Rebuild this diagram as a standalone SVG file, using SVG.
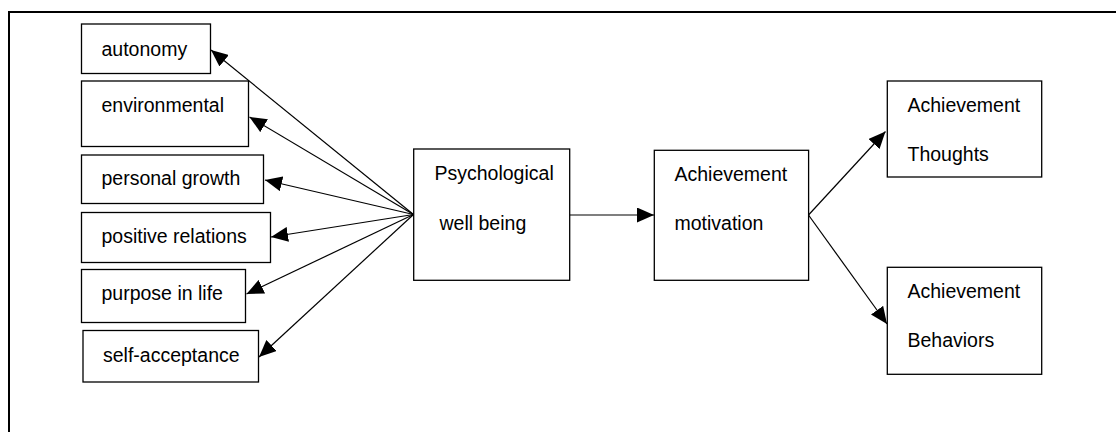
<svg xmlns="http://www.w3.org/2000/svg" width="1116" height="432" viewBox="0 0 1116 432">
<style>
.box{fill:#fff;stroke:#000;stroke-width:1.3}
.t{font-family:"Liberation Sans",Arial,sans-serif;font-size:19.5px;fill:#000}
.c{stroke:#000;stroke-width:1.2;fill:none;marker-end:url(#ah)}
</style>
<defs>
<marker id="ah" markerUnits="userSpaceOnUse" markerWidth="17" markerHeight="15" refX="17" refY="7.5" orient="auto">
<path d="M0,0 L17,7.5 L0,15 z" fill="#000"/>
</marker>
</defs>
<rect width="1116" height="432" fill="#fff"/>
<g id="frame">
<path d="M9,432 V12 H1116" fill="none" stroke="#000" stroke-width="2"/>
</g>
<g id="connectors">
<line class="c" x1="413.5" y1="214.5" x2="211" y2="50"/>
<line class="c" x1="413.5" y1="214.5" x2="249.5" y2="117"/>
<line class="c" x1="413.5" y1="214.5" x2="265" y2="180"/>
<line class="c" x1="413.5" y1="214.5" x2="271" y2="237"/>
<line class="c" x1="413.5" y1="214.5" x2="246.5" y2="294"/>
<line class="c" x1="413.5" y1="214.5" x2="259" y2="357"/>
<line class="c" x1="570" y1="215" x2="654" y2="215"/>
<line class="c" x1="808.5" y1="215" x2="885.5" y2="131.5"/>
<line class="c" x1="808.5" y1="215" x2="887" y2="324"/>
</g>
<g id="autonomy"><rect class="box" x="81.5" y="24" width="129" height="49.5"/><text class="t" x="101.5" y="56">autonomy</text></g>
<g id="environmental"><rect class="box" x="81.5" y="81" width="167" height="65.5"/><text class="t" x="101.5" y="111.5">environmental</text></g>
<g id="personal-growth"><rect class="box" x="81.5" y="155" width="182" height="48.5"/><text class="t" x="101.5" y="185">personal growth</text></g>
<g id="positive-relations"><rect class="box" x="81.5" y="212.5" width="189" height="50"/><text class="t" x="101.5" y="243">positive relations</text></g>
<g id="purpose-in-life"><rect class="box" x="81.5" y="269.5" width="164" height="53"/><text class="t" x="101.5" y="300">purpose in life</text></g>
<g id="self-acceptance"><rect class="box" x="83" y="330.5" width="175.5" height="51.5"/><text class="t" x="103" y="361.5">self-acceptance</text></g>
<g id="psychological-well-being"><rect class="box" x="413.7" y="149" width="156" height="131.3"/><text class="t" x="434.5" y="180">Psychological</text><text class="t" x="439.5" y="229.5">well being</text></g>
<g id="achievement-motivation"><rect class="box" x="654.3" y="150.3" width="154.3" height="130"/><text class="t" x="674.5" y="181">Achievement</text><text class="t" x="674.5" y="230">motivation</text></g>
<g id="achievement-thoughts"><rect class="box" x="887.3" y="81" width="154.4" height="96"/><text class="t" x="907.5" y="111.5">Achievement</text><text class="t" x="907.5" y="160.5">Thoughts</text></g>
<g id="achievement-behaviors"><rect class="box" x="887.3" y="267.3" width="154.4" height="107"/><text class="t" x="907.5" y="297.5">Achievement</text><text class="t" x="907.5" y="346.5">Behaviors</text></g>
</svg>
